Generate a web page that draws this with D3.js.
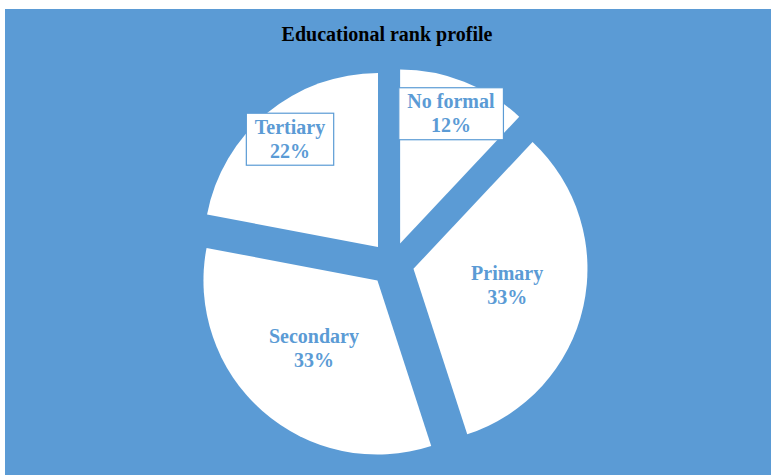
<!DOCTYPE html>
<html>
<head>
<meta charset="utf-8">
<script src="https://cdn.jsdelivr.net/npm/d3@7"></script>
<style>
  html, body { margin: 0; padding: 0; background: #ffffff; }
  svg { display: block; }
</style>
</head>
<body>
<div id="chart"></div>
<script>
const title = "Educational rank profile";
const categories = ["No formal", "Primary", "Secondary", "Tertiary"];
const values = [12, 33, 33, 22];
const percentLabels = ["12%", "33%", "33%", "22%"];

const W = 771, H = 475;
const bg = "#5B9BD5";
const fontFamily = "'Liberation Serif', 'Times New Roman', serif";

const svg = d3.select("#chart").append("svg")
  .attr("width", W).attr("height", H);

svg.append("rect")
  .attr("x", 5).attr("y", 9)
  .attr("width", W - 5).attr("height", H - 9)
  .attr("fill", bg);

svg.append("text")
  .attr("x", 387).attr("y", 41)
  .attr("text-anchor", "middle")
  .attr("font-family", fontFamily)
  .attr("font-weight", "bold")
  .attr("font-size", 20)
  .attr("fill", "#000")
  .text(title);

const cx = 392, cy = 264, R = 174, explode = 22;

const data = categories.map((c, i) => ({ name: c, value: values[i], pct: percentLabels[i] }));
const pie = d3.pie().value(d => d.value).sort(null).startAngle(0).endAngle(2 * Math.PI);
const arc = d3.arc().innerRadius(0).outerRadius(R);
const arcs = pie(data);

const g = svg.append("g").attr("transform", `translate(${cx},${cy})`);

function dirOf(d) {
  const a = (d.startAngle + d.endAngle) / 2;
  return [Math.sin(a), -Math.cos(a)];
}

const slices = g.selectAll("g.slice").data(arcs).enter().append("g")
  .attr("class", "slice")
  .attr("transform", d => {
    const [ux, uy] = dirOf(d);
    return `translate(${ux * explode},${uy * explode})`;
  });

slices.append("path")
  .attr("d", arc)
  .attr("fill", "#ffffff");

// labels
slices.each(function(d) {
  const sel = d3.select(this);
  const [ux, uy] = dirOf(d);
  const share = d.value / d3.sum(values);
  const boxed = share < 0.3;
  const lr = boxed ? 138 : 96;
  const shiftY = boxed ? -2 : -5;
  const lx = ux * lr, ly = uy * lr + shiftY;
  const lg = sel.append("g").attr("transform", `translate(${lx},${ly})`);
  let rect;
  if (boxed) rect = lg.append("rect");
  const t = lg.append("text")
    .attr("text-anchor", "middle")
    .attr("font-family", fontFamily)
    .attr("font-weight", "bold")
    .attr("font-size", 20)
    .attr("fill", bg);
  t.append("tspan").attr("x", 0).attr("y", -5).text(d.data.name);
  t.append("tspan").attr("x", 0).attr("y", 19).text(d.data.pct);
  if (boxed) {
    const bb = t.node().getBBox();
    const padX = 8.5;
    rect.attr("x", bb.x - padX).attr("y", -25.5)
      .attr("width", bb.width + 2 * padX).attr("height", 52)
      .attr("fill", "#ffffff")
      .attr("stroke", bg).attr("stroke-width", 1.2);
  }
});
</script>
</body>
</html>
